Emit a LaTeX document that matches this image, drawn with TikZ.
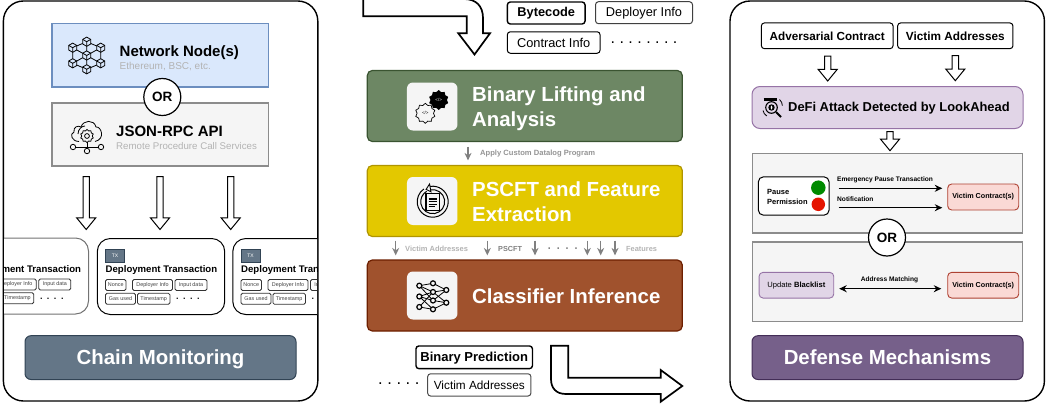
\documentclass[tikz,border=0pt]{standalone}
\usepackage{fontspec}
\setmainfont{Liberation Sans}
\usetikzlibrary{shapes.geometric, arrows.meta, positioning, calc}
\definecolor{netblue}{HTML}{DAE8FC}
\definecolor{netedge}{HTML}{6C8EBF}
\definecolor{softgray}{HTML}{F5F5F5}
\definecolor{softedge}{HTML}{8C8C8C}
\definecolor{hintgray}{HTML}{B3B3B3}
\definecolor{slatefill}{HTML}{647687}
\definecolor{slateedge}{HTML}{314354}
\definecolor{liftgreen}{HTML}{6D8764}
\definecolor{liftedge}{HTML}{3A5431}
\definecolor{pscftyellow}{HTML}{E3C800}
\definecolor{pscftedge}{HTML}{B09500}
\definecolor{classbrown}{HTML}{A0522D}
\definecolor{classedge}{HTML}{6D1F00}
\definecolor{mauvefill}{HTML}{E1D5E7}
\definecolor{mauveedge}{HTML}{9673A6}
\definecolor{plumfill}{HTML}{76608A}
\definecolor{plumedge}{HTML}{432D57}
\definecolor{rosefill}{HTML}{FAD9D5}
\definecolor{roseedge}{HTML}{AE4132}
\definecolor{lampgreen}{HTML}{008A00}
\definecolor{lampred}{HTML}{E51400}
\newcommand{\fsz}[1]{\fontsize{#1}{#1}\selectfont}
\frenchspacing
\begin{document}
\begin{tikzpicture}[
    x=1pt, y=-1pt,
    panel/.style={rectangle, draw=black, line width=1.4pt, rounded corners=20pt, minimum width=314.4pt, minimum height=400pt, inner sep=0pt},
    plainbox/.style={rectangle, draw=#1, line width=1.2pt, inner sep=0pt},
    netbox/.style={plainbox=netedge, fill=netblue, minimum width=216.5pt, minimum height=63.5pt},
    greybox/.style={plainbox=softedge, fill=softgray},
    orbadge/.style={circle, draw=black, line width=1.2pt, fill=white, minimum size=37pt, inner sep=0pt, font=\bfseries\fsz{13.5}},
    titlebar/.style={rectangle, draw=#1, rounded corners=6pt, line width=1pt, minimum width=271pt, minimum height=43.8pt, inner sep=0pt, text height=14.6pt, text depth=0pt, text=white, font=\bfseries\fsz{20.4}},
    stage/.style={rectangle, draw=#1, rounded corners=5pt, line width=1.2pt, minimum width=315pt, minimum height=71pt, inner sep=0pt},
    iconbox/.style={rectangle, fill=softgray, rounded corners=6pt, minimum width=50.5pt, minimum height=48pt, inner sep=0pt},
    stagetext/.style={anchor=west, inner sep=0pt, align=left, text=white, font=\bfseries\fontsize{20.4}{25}\selectfont},
    tag/.style={rectangle, draw=black, rounded corners=3pt, line width=1pt, inner sep=0pt},
    txbox/.style={rectangle, draw=#1, rounded corners=13pt, line width=1pt, fill=white, minimum width=127.4pt, minimum height=76pt, inner sep=0pt},
    txtag/.style={rectangle, draw=black!80, rounded corners=1.5pt, line width=.8pt, minimum height=11pt, inner sep=0pt, text=black!75, font=\fsz{5.4}},
    label/.style={inner sep=0pt, font=\bfseries\fsz{#1}},
    hint/.style={anchor=west, inner sep=0pt, text=hintgray, font=\fsz{#1}},
    dotrow/.style={anchor=west, inner sep=0pt, font=\fsz{#1}},
    bentarrow/.style={draw=black, fill=white, line width=1.7pt, line join=miter},
    flowarrow/.style={-{Stealth[length=7.5pt, width=7pt]}, draw=gray, line width=1.4pt, shorten <=3.6pt, shorten >=4pt},
    arrow/.style={-{Stealth[length=7.5pt, width=7pt]}, draw=black, line width=1.1pt},
    iconline/.style={draw=black, line width=.8pt},
    neuron/.style={circle, draw=black, line width=1.2pt, fill=softgray, minimum size=5pt, inner sep=0pt},
    gear/.style={star, star points=10, star point ratio=1.22, minimum size=#1, inner sep=0pt},
    hollowdown/.pic={
        \draw[draw=black, fill=white, line width=1pt, line join=miter] (-3.2,0) -- (-3.2,#1-11.7) -- (-9.6,#1-11.7) -- (0,#1) -- (9.6,#1-11.7) -- (3.2,#1-11.7) -- (3.2,0) -- cycle;
    },
    cube/.pic={
        \draw[iconline, fill=netblue] (90:4.6) -- (30:4.6) -- (-30:4.6) -- (-90:4.6) -- (-150:4.6) -- (150:4.6) -- cycle;
        \draw[iconline] (0,0) -- (30:4.6) (0,0) -- (150:4.6) (0,0) -- (-90:4.6);
    }
]
\useasboundingbox (0,0) rectangle (1054,407);

\node[panel] (chainpanel) at (160.6,201) {};
\node[panel] (defensepanel) at (887.2,201) {};

\node[netbox] (netnode) at (160.2,55.2) {};
\node[greybox, minimum width=216.5pt, minimum height=63pt] (rpcapi) at (160.2,134.5) {};
\node[orbadge] (orchain) at (162.3,97) {OR};
\node[label=15, anchor=west] (nettitle) at (119.5,53) {Network Node(s)};
\node[hint=10] (netsub) at (119.5,66.5) {Ethereum, BSC, etc.};
\node[label=15, anchor=west] (rpctitle) at (116,131.5) {JSON-RPC API};
\node[hint=9.7] (rpcsub) at (116,146.5) {Remote Procedure Call Services};

\begin{scope}[shift={(86.7,55.5)}, x=1pt, y=1pt]
    \draw[iconline] (0,13.8) -- (0,-13.8) (-14,7.8) -- (14,-7.8) (-14,-7.8) -- (14,7.8) (0,13.8) -- (14,7.8) -- (14,-7.8) -- (0,-13.8) -- (-14,-7.8) -- (-14,7.8) -- cycle;
    \foreach \cx/\cy in {0/13.8, -14/7.8, 14/7.8, 0/0, -14/-7.8, 14/-7.8, 0/-13.8}
        \pic at (\cx,\cy) {cube};
\end{scope}

\begin{scope}[shift={(87,131)}, x=1pt, y=1pt]
    \draw[iconline] (-8,-10.5) .. controls (-15,-10.5) and (-18,-3) .. (-13,-1) .. controls (-14,4) and (-9,6) .. (-6,4) .. controls (-4,11) and (7,12) .. (9,4) .. controls (14,5) and (19,-8) .. (8,-10.5);
    \draw[iconline] (-9,-3) .. controls (-9,2) and (-5,5) .. (-2,5);
    \node[gear=13pt, draw=black, fill=softgray, line width=.8pt] (rpcgear) at (0,-5) {};
    \draw[iconline] (0,-5) circle (2.4);
    \draw[iconline] (-14,-16) -- (14,-16) (0,-11) -- (0,-20);
    \foreach \nx/\ny in {-14/-16, 14/-16, 0/-20}
        \draw[iconline, fill=softgray] (\nx,\ny) circle (2.7);
\end{scope}

\pic at (86.2,176.5) {hollowdown=53};
\pic at (160,176.5) {hollowdown=53};
\pic at (230.7,176.5) {hollowdown=53};

\begin{scope}
    \clip (4,200) rectangle (317,330);
    \foreach \i/\ox/\oy/\edge in {1/-136.2/-0.5/black!55, 2/0/0/black, 3/135.5/0/black} {
        \begin{scope}[shift={(\ox,\oy)}]
            \node[txbox=\edge] (tx\i) at (161,276.5) {};
            \node[rectangle, draw=slateedge, fill=slatefill, minimum width=19pt, minimum height=13pt, inner sep=0pt, text=white, font=\fsz{5}] (txmark\i) at (115,255.5) {TX};
            \node[label=9.6, anchor=west] (txname\i) at (105.5,270.5) {Deployment Transaction};
            \node[txtag, minimum width=20.5pt] (nonce\i) at (115.7,285) {Nonce};
            \node[txtag, minimum width=40pt] (deployer\i) at (152.5,285) {Deployer Info};
            \node[txtag, minimum width=32pt] (input\i) at (191,285) {Input data};
            \node[txtag, minimum width=30pt] (gas\i) at (120.5,298.8) {Gas used};
            \node[txtag, minimum width=32.5pt] (time\i) at (153.7,298.8) {Timestamp};
            \node[dotrow=12.6] (txdots\i) at (175.5,299) {. . . .};
        \end{scope}
    }
\end{scope}

\node[titlebar=slateedge, fill=slatefill] (chainbar) at (160.5,357.6) {Chain Monitoring};

\draw[bentarrow] (363.3,-2) -- (363.3,16.3) -- (466.7,16.3) -- (466.7,33.3) -- (458.3,33.3) -- (474.5,54.5) -- (490,33.3) -- (483,33.3) -- (483,18) .. controls (483,6) and (476,-1) .. (464,-1) -- (363.3,-1);

\node[tag, line width=1.4pt, minimum width=77.7pt, minimum height=22pt, font=\bfseries\fsz{12.8}] (bytecode) at (546.2,13) {Bytecode};
\node[tag, draw=black!75, minimum width=97pt, minimum height=22pt, font=\fsz{12.8}] (deployerinfo) at (644,12.7) {Deployer Info};
\node[tag, minimum width=92.7pt, minimum height=21.5pt, font=\fsz{12.8}] (contractinfo) at (553.7,42.5) {Contract Info};
\node[dotrow=16] (infodots) at (610.5,43) {. . . . . . . .};

\node[stage=liftedge, fill=liftgreen] (liftbox) at (524.8,106) {};
\node[stage=pscftedge, fill=pscftyellow] (pscftbox) at (524.8,201) {};
\node[stage=classedge, fill=classbrown] (classbox) at (524.8,295.5) {};
\node[iconbox] (lifticon) at (432.2,106.5) {};
\node[iconbox] (pscfticon) at (432.2,201) {};
\node[iconbox] (classicon) at (432.2,295.5) {};
\node[stagetext] (lifttext) at (472,109) {Binary Lifting and\\Analysis};
\node[stagetext] (pscfttext) at (472,201.5) {PSCFT and Feature\\Extraction};
\node[stagetext] (classtext) at (472,296) {Classifier Inference};

\node[gear=20pt, fill=black, text=white, font=\fsz{4.5}] (gearblack) at (438.7,100) {</>};
\node[gear=20pt, draw=black, line width=.7pt, font=\fsz{4.5}] (gearwhite) at (425.3,113.3) {</>};

\begin{scope}[shift={(432.7,201.7)}, x=1pt, y=1pt]
    \draw[iconline, line width=1pt] (100:12) arc (100:-240:12);
    \draw[iconline, line width=1pt] (100:15.5) arc (100:-235:15.5);
    \draw[iconline, fill=softgray, line width=.9pt] (100:10) -- (118:14) -- (100:18) -- cycle;
    \draw[iconline, fill=softgray, line width=1.1pt] (-6.7,8.4) rectangle (6.7,-9);
    \draw[draw=black, line width=2pt] (-4,3) -- (4,3);
    \draw[iconline] (-4,0) -- (4,0) (-4,-2.5) -- (4,-2.5) (-4,-5) -- (2,-5);
\end{scope}

\foreach \k/\nx/\ny in {a/419.3/285.7, b/419.3/296.5, c/419.3/307, d/433/283.3, e/433/292, f/433/300.5, g/433/309.3, h/446.3/290, i/446.3/302.7}
    \coordinate (n\k) at (\nx,\ny);
\foreach \s/\t in {a/d, a/e, a/f, b/e, b/f, b/g, c/e, c/g, d/h, e/h, e/i, f/h, f/i, g/i}
    \draw[iconline] (n\s) -- (n\t);
\foreach \k in {a,b,c,d,e,f,g,h,i}
    \node[neuron] at (n\k) {};

\coordinate (datalogx) at (468,153);
\draw[flowarrow, shorten <=4.5pt, shorten >=4.5pt] (datalogx |- liftbox.south) -- (datalogx |- pscftbox.north);
\node[label=7.6, anchor=west, text=black!42] (datalog) at (480,153.5) {Apply Custom Datalog Program};
\foreach \j/\fx in {1/395.7, 2/487.3, 3/535, 4/587.3, 5/600.7, 6/615} {
    \coordinate (featx\j) at (\fx,248);
    \draw[flowarrow] (featx\j |- pscftbox.south) -- (featx\j |- classbox.north);
}
\node[label=7.5, anchor=west, text=hintgray] (victimfeat) at (405,248.5) {Victim Addresses};
\node[label=7.3, anchor=west, text=black!50] (pscftfeat) at (498,249) {PSCFT};
\node[dotrow=16, text=black!50] (featdots) at (547,249) {. . . .};
\node[label=7.4, anchor=west, text=hintgray] (features) at (626,249) {Features};

\node[tag, line width=1.4pt, minimum width=116.5pt, minimum height=22.7pt, text height=9.5pt, text depth=1pt, font=\bfseries\fsz{13}] (binarypred) at (474.2,357.3) {Binary Prediction};
\node[tag, draw=black!70, minimum width=103.3pt, minimum height=22.3pt, font=\fsz{11.8}] (victimout) at (479.3,384.9) {Victim Addresses};
\node[dotrow=16.5] (outdots) at (378,384) {. . . . .};

\draw[bentarrow] (551,345.7) -- (568.3,345.7) -- (568.3,377.7) -- (660.7,377.7) -- (660.7,370) -- (682.3,386) -- (660.7,401.7) -- (660.7,394) -- (566,394) .. controls (556,394) and (551,388) .. (551,379) -- cycle;

\node[tag, minimum width=131.7pt, minimum height=25.7pt, text height=8.6pt, text depth=0pt, font=\bfseries\fsz{11.7}] (adversarial) at (827.2,35.8) {Adversarial Contract};
\node[tag, minimum width=115.3pt, minimum height=25.7pt, text height=8.6pt, text depth=0pt, font=\bfseries\fsz{11.8}] (victiminput) at (955.3,35.8) {Victim Addresses};
\pic at (827.7,56) {hollowdown=25};
\pic at (955.3,55.7) {hollowdown=25};
\node[rectangle, draw=mauveedge, fill=mauvefill, rounded corners=8pt, line width=1pt, minimum width=271pt, minimum height=42pt, inner sep=0pt] (lookahead) at (887.5,107.5) {};
\node[label=12.9, anchor=west] (looktext) at (788,108.5) {DeFi Attack Detected by LookAhead};
\begin{scope}[shift={(771.5,107.5)}, x=1pt, y=1pt]
    \draw[draw=black, line width=2.2pt] (-8,8) -- (5,8);
    \draw[iconline, line width=1.1pt] (0,0) circle (5.8);
    \fill[black] (0,0) circle (3.2);
    \fill[white] (0,0) ellipse (.8 and 2);
    \draw[draw=black, line width=2pt] (4.5,-4.5) -- (9.5,-9.5);
    \draw[iconline] (8,8) arc (50:0:8) (-8.5,-3) arc (190:240:8);
\end{scope}
\pic at (890,131.7) {hollowdown=19};

\node[greybox, minimum width=270pt, minimum height=79.5pt] (pausepanel) at (887.7,193.2) {};
\node[greybox, minimum width=270pt, minimum height=79.7pt] (listpanel) at (887.7,281.9) {};
\node[orbadge] (ordefense) at (887,237.5) {OR};

\node[tag, fill=white, rounded corners=5pt, minimum width=70.7pt, minimum height=38.3pt] (pausebox) at (793.7,196) {};
\node[label=7.5, anchor=west, align=left] (pausetext) at (767,197) {Pause\\[2pt]Permission};
\node[circle, fill=lampgreen, minimum size=14.5pt, inner sep=0pt] (lampgo) at (818.3,187.7) {};
\node[circle, fill=lampred, minimum size=13.5pt, inner sep=0pt] (lampstop) at (818.3,204.3) {};
\node[rectangle, draw=roseedge, fill=rosefill, rounded corners=4pt, line width=.9pt, minimum width=71pt, minimum height=26pt, inner sep=0pt, font=\bfseries\fsz{7.2}] (victimone) at (983.2,197) {Victim Contract(s)};
\node[rectangle, draw=roseedge, fill=rosefill, rounded corners=4pt, line width=.9pt, minimum width=71pt, minimum height=25.7pt, inner sep=0pt, font=\bfseries\fsz{7.2}] (victimtwo) at (983.2,285.2) {Victim Contract(s)};
\node[rectangle, draw=mauveedge, fill=mauvefill, rounded corners=4pt, line width=.9pt, minimum width=74.7pt, minimum height=25.7pt, inner sep=0pt, font=\fsz{7.6}] (blacklist) at (796.4,285.2) {Update \textbf{Blacklist}};

\draw[arrow] ([xshift=9pt, yshift=7.7pt]pausebox.east) -- ([xshift=-5pt, yshift=8.7pt]victimone.west);
\draw[arrow] ([xshift=9pt, yshift=-11.7pt]pausebox.east) -- ([xshift=-5pt, yshift=-10.7pt]victimone.west);
\draw[arrow, {Stealth[length=7.5pt, width=7pt]}-{Stealth[length=7.5pt, width=7pt]}] ([xshift=5pt, yshift=-3.5pt]blacklist.east) -- ([xshift=-6pt, yshift=-3.5pt]victimtwo.west);
\node[label=6.6, anchor=west] (pausetx) at (837,179.7) {Emergency Pause Transaction};
\node[label=6.6, anchor=west] (notify) at (837,199.5) {Notification};
\node[label=6.6] (matching) at (889.5,280) {Address Matching};

\node[titlebar=plumedge, fill=plumfill] (defensebar) at (887.5,357.6) {Defense Mechanisms};

\end{tikzpicture}
\end{document}
